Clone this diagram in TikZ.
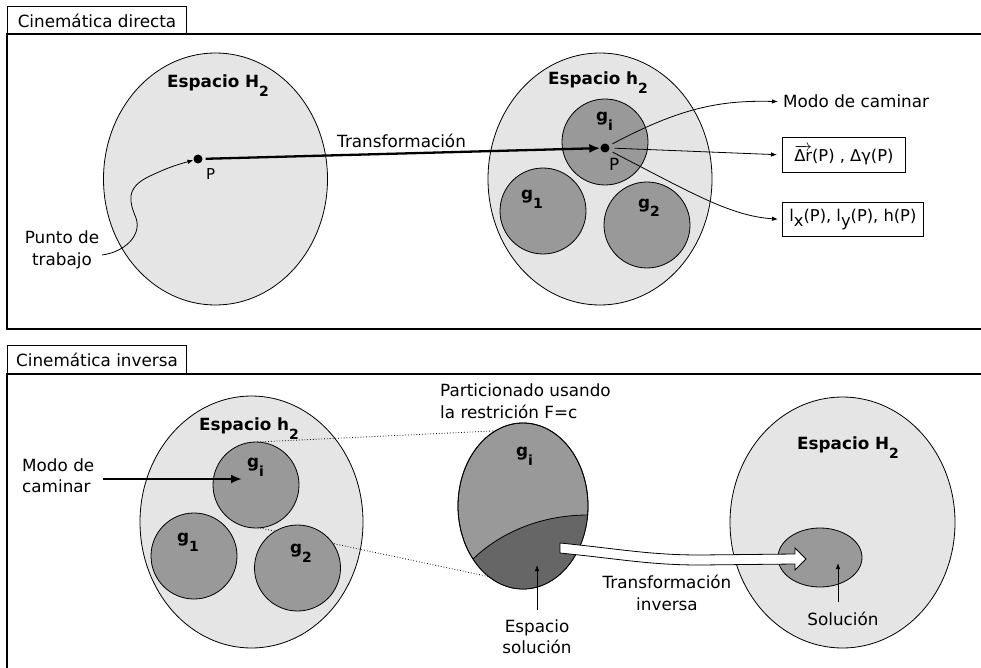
\documentclass[tikz,border=0pt]{standalone}
\usepackage{fontspec}
\setmainfont{DejaVu Sans}
\usetikzlibrary{arrows.meta,shapes.geometric}
\definecolor{lightg}{gray}{0.9}
\definecolor{midg}{gray}{0.6}
\definecolor{darkg}{gray}{0.4}
\newcommand\lowsub[1]{\raisebox{-9pt}{\fontsize{14}{14}\selectfont #1}}
\begin{document}
\begin{tikzpicture}[x=1pt,y=-1pt,
  every node/.style={font=\fontsize{16.8}{21}\selectfont, inner sep=0pt},
  frameline/.style={line width=1.3pt},
  tabbox/.style={draw, line width=1pt, anchor=north west, minimum width=179pt, minimum height=28pt},
  bigspace/.style={ellipse, draw, line width=0.8pt, fill=lightg},
  gcirc/.style={circle, draw, line width=0.8pt, fill=midg, minimum size=86pt},
  lab/.style={font=\fontsize{16.8}{21}\selectfont\bfseries, anchor=base west},
  txt/.style={anchor=base west},
  pdot/.style={circle, fill=black, minimum size=9pt},
  bigarrow/.style={line width=2.3pt, -{Latex[length=11pt,width=9pt]}},
  thinarrow/.style={line width=0.8pt, -{Latex[length=6pt,width=4.5pt]}},
  zoomline/.style={dotted, line width=0.8pt},
  valbox/.style={draw, line width=0.8pt, anchor=north west, font=\fontsize{16.3}{18}\selectfont},
  ]
\useasboundingbox[fill=white] (0,0) rectangle (981,668);

% ---------------- top panel ----------------
\node[tabbox] (tab1) at (7,6) {Cinemática directa};
\draw[frameline] (981,34) -- (7,34) -- (7,329) -- (981,329);

\node[bigspace, minimum width=224pt, minimum height=252pt] (H2a) at (215.5,179) {};
\node[lab] (labH2a) at (167,88) {Espacio H\lowsub{2}};
\node[pdot] (Pa) at (198,159) {};
\node[txt, font=\fontsize{15}{18}\selectfont] (labPa) at (206,180) {P};
\node[anchor=base, align=center] (punto) at (62,265) {Punto de\\trabajo};
\coordinate (puntostart) at (102,255);
\draw[thinarrow] (puntostart) .. controls (125,252) and (142,235) .. (136,218)
   .. controls (130,203) and (124,188) .. (150,176)
   .. controls (163,170) and (172,166) .. (Pa);

\node[bigspace, minimum width=224pt, minimum height=252pt] (h2a) at (600,179) {};
\node[lab] (labh2a) at (548,85) {Espacio h\lowsub{2}};
\node[gcirc] (gia) at (605,142) {};
\node[gcirc] (g1a) at (543,211) {};
\node[gcirc] (g2a) at (647,225) {};
\node[lab] (labgia) at (596,122) {g\lowsub{i}};
\node[lab] (labg1a) at (521,200) {g\lowsub{1}};
\node[lab] (labg2a) at (638,208) {g\lowsub{2}};
\node[pdot] (Pb) at (605,148) {};
\node[txt] (labPb) at (609,171) {P};

\draw[bigarrow, shorten <=3pt] (Pa) -- (Pb);
\node[txt] (transf) at (337,148) {Transformación};

\node[txt] (modo1) at (783,108) {Modo de caminar};
\node[valbox, minimum width=123pt, minimum height=35pt] (box1) at (782,137)
  {$\overrightarrow{\hbox{\raisebox{0pt}[11pt][0pt]{Δr}}}$(P) , Δγ(P)};
\node[valbox, minimum width=141pt, minimum height=34pt] (box2) at (782,202)
  {l\raisebox{-5pt}{x}(P), l\raisebox{-5pt}{y}(P), h(P)};

\draw[thinarrow, shorten <=4pt, shorten >=5pt] (Pb.30) .. controls (680,108) and (720,100) .. (modo1.west);
\draw[thinarrow, shorten <=5pt, shorten >=5pt] (Pb.east) -- (box1.west);
\draw[thinarrow, shorten <=4pt, shorten >=4pt] (Pb.-30) .. controls (690,192) and (730,216) .. (box2.west);

% ---------------- bottom panel ----------------
\node[tabbox] (tab2) at (7,345) {Cinemática inversa};
\draw[frameline] (981,374) -- (7,374) -- (7,670);

\node[bigspace, minimum width=223pt, minimum height=252pt] (h2b) at (251.5,522) {};
\node[lab] (labh2b) at (199,430) {Espacio h\lowsub{2}};

\coordinate (zt1) at (257,442);
\coordinate (zt2) at (514,430);
\coordinate (zb1) at (260,528);
\coordinate (zb2) at (500,579);
\draw[zoomline] (zt1) -- (zt2);
\draw[zoomline] (zb1) -- (zb2);

\node[gcirc] (gib) at (256,485) {};
\node[gcirc] (g1b) at (194,556) {};
\node[gcirc] (g2b) at (297.5,568) {};
\node[lab] (labgib) at (247,467) {g\lowsub{i}};
\node[lab] (labg1b) at (177,542) {g\lowsub{1}};
\node[lab] (labg2b) at (290,553) {g\lowsub{2}};

\node[anchor=base west, align=left] (modo2) at (22,492) {Modo de\\caminar};
\coordinate (modostart) at (103,479);
\coordinate (modotip) at (242,479);
\draw[bigarrow] (modostart) -- (modotip);

% partitioned g_i
\node[ellipse, draw, line width=0.8pt, fill=midg, minimum width=130pt, minimum height=166pt] (gbig) at (523,506) {};
\begin{scope}
  \clip (523,506) ellipse [x radius=65, y radius=83];
  \fill[darkg] (473,559) .. controls (500,533) and (540,515) .. (588,515) -- (600,515) -- (600,600) -- (450,600) -- (450,559) -- cycle;
\end{scope}
\draw[line width=0.8pt] (473,559) .. controls (500,533) and (540,515) .. (588,515);
\draw[line width=0.8pt] (523,506) ellipse [x radius=65, y radius=83];
\node[lab] (labgbig) at (516,456) {g\lowsub{i}};

\node[anchor=base west, align=left, font=\fontsize{16.8}{22}\selectfont] (partic) at (440,418) {Particionado usando\\la restrición F=c};

\node[anchor=base, align=center] (esol) at (537,653) {Espacio\\solución};
\coordinate (esoltip) at (537,565);
\draw[thinarrow, shorten <=9pt] (esol.north) -- (esoltip);

% right H2
\node[bigspace, minimum width=225pt, minimum height=251pt] (H2b) at (842.5,522.5) {};
\node[lab] (labH2b) at (797,449) {Espacio H\lowsub{2}};
\node[ellipse, draw, line width=0.8pt, fill=midg, minimum width=84pt, minimum height=59pt] (solell) at (820,557.5) {};
\node[anchor=base] (sol) at (843,625) {Solución};
\coordinate (soltip) at (838,563);
\draw[thinarrow, shorten <=9pt] (sol.north -| soltip) -- (soltip);

% white inverse-transformation arrow
\draw[line width=0.8pt, fill=white, line join=miter]
  (560,543) .. controls (620,549) and (650,555) .. (700,555) -- (795,554) -- (795,548) -- (806,559)
  -- (795,570) -- (795,564) -- (700,565) .. controls (650,565) and (620,559) .. (560,553) -- cycle;
\node[anchor=base, align=center, font=\fontsize{16.8}{22}\selectfont] (invtxt) at (667,610) {Transformación\\inversa};
\end{tikzpicture}
\end{document}
